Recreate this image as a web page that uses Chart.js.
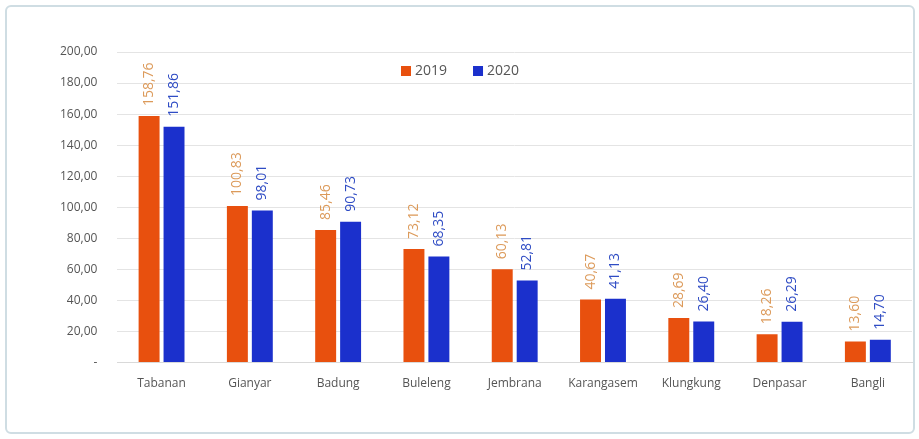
<!DOCTYPE html>
<html>
<head>
<meta charset="UTF-8">
<title>Bali 2019 - 2020</title>
<script src="https://cdn.jsdelivr.net/npm/chart.js"></script>
<style>
  html, body { margin: 0; padding: 0; background: #fff; }
  #wrap { position: relative; width: 919px; height: 439px; }
  #frame {
    position: absolute; left: 5px; top: 5px; width: 906px; height: 425px;
    border: 2px solid #cfdde3; border-radius: 6px;
  }
  #box { position: absolute; left: 0; top: 0; width: 919px; height: 439px; }
</style>
</head>
<body>
<div id="wrap">
  <div id="frame"></div>
  <div id="box"><canvas id="grafik"></canvas></div>
</div>

<script>
  // Data per kabupaten/kota
  const kabupaten = ['Tabanan', 'Gianyar', 'Badung', 'Buleleng', 'Jembrana', 'Karangasem', 'Klungkung', 'Denpasar', 'Bangli'];
  const nilai2019 = [158.76, 100.83, 85.46, 73.12, 60.13, 40.67, 28.69, 18.26, 13.60];
  const nilai2020 = [151.86, 98.01, 90.73, 68.35, 52.81, 41.13, 26.40, 26.29, 14.70];

  const warnaBar = ['#e8500e', '#1b30cc'];
  const warnaLabel = ['#dc9a5a', '#2f4cc4'];
  const huruf = '"Open Sans", sans-serif';

  function fmt(v) {
    return v.toFixed(2).replace('.', ',');
  }

  // angka di atas tiap batang, diputar vertikal
  const labelNilai = {
    id: 'labelNilai',
    afterDatasetsDraw(chart) {
      const ctx = chart.ctx;
      ctx.save();
      ctx.font = '14px ' + huruf;
      chart.data.datasets.forEach((ds, i) => {
        const meta = chart.getDatasetMeta(i);
        ctx.fillStyle = warnaLabel[i];
        meta.data.forEach((bar, j) => {
          ctx.save();
          ctx.translate(bar.x, bar.y - 10);
          ctx.rotate(-Math.PI / 2);
          ctx.textAlign = 'left';
          ctx.textBaseline = 'middle';
          ctx.fillText(fmt(ds.data[j]), 0, 0);
          ctx.restore();
        });
      });
      ctx.restore();
    }
  };

  // legenda kecil di dalam area grafik
  const legendaDalam = {
    id: 'legendaDalam',
    afterDraw(chart) {
      const ctx = chart.ctx;
      ctx.save();
      ctx.font = '14px ' + huruf;
      ctx.textBaseline = 'middle';
      let x = 401;
      const y = 71;
      chart.data.datasets.forEach((ds, i) => {
        ctx.fillStyle = warnaBar[i];
        ctx.fillRect(x, y - 5, 10, 10);
        ctx.fillStyle = '#555';
        ctx.fillText(ds.label, x + 14, y);
        x += 14 + ctx.measureText(ds.label).width + 26;
      });
      ctx.restore();
    }
  };

  new Chart(document.getElementById('grafik'), {
    type: 'bar',
    data: {
      labels: kabupaten,
      datasets: [
        { label: '2019', data: nilai2019, backgroundColor: warnaBar[0] },
        { label: '2020', data: nilai2020, backgroundColor: warnaBar[1] }
      ]
    },
    options: {
      responsive: true,
      maintainAspectRatio: false,
      animation: false,
      layout: { padding: { left: 40, right: 7, top: 52, bottom: 42 } },
      datasets: { bar: { categoryPercentage: 0.565, barPercentage: 0.84 } },
      plugins: {
        legend: { display: false },
        tooltip: { enabled: false }
      },
      scales: {
        x: {
          grid: { display: false },
          border: { display: true, color: '#d9d9d9' },
          ticks: { color: '#555', font: { family: huruf, size: 12 }, padding: 6 }
        },
        y: {
          min: 0,
          max: 200,
          border: { display: false },
          grid: { color: '#e4e4e4', drawTicks: false },
          ticks: {
            stepSize: 20,
            padding: 20,
            color: '#555',
            font: { family: huruf, size: 12 },
            callback: v => v === 0 ? '-' : fmt(v)
          }
        }
      }
    },
    plugins: [labelNilai, legendaDalam]
  });
</script>
</body>
</html>
